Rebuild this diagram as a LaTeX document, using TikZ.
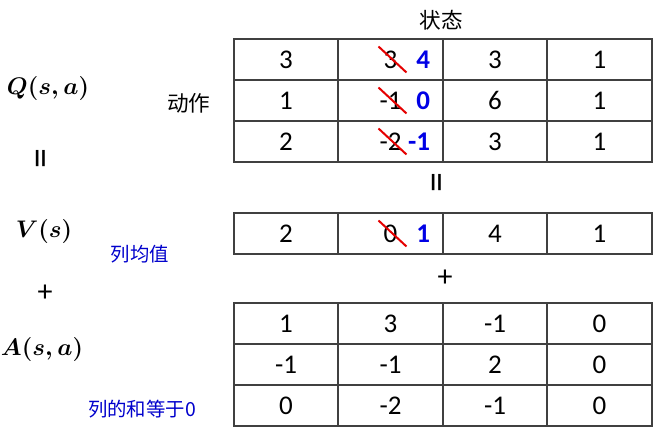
\documentclass[tikz,border=0pt]{standalone}
\usepackage{amsmath}
\usepackage{bm}
\usepackage{fontspec}
\setmainfont{Carlito}
\newfontfamily\cjk{Noto Sans CJK SC}
\usetikzlibrary{calc}

\begin{document}
\begin{tikzpicture}[x=.5pt, y=-.5pt, font=\fontsize{13.5}{15}\selectfont,
    grid/.style={draw=black!75, line width=.6pt},
    struck/.style={draw=red!90!black, line width=1pt},
    newval/.style={text=blue!90!black, font=\fontsize{13.5}{15}\selectfont\bfseries, anchor=east, inner sep=0pt},
    note/.style={text=blue!80!black, font=\cjk\fontsize{9.7}{11}\selectfont},
    head/.style={font=\cjk\fontsize{10.8}{12}\selectfont},
    sign/.style={font=\fontsize{15}{16}\selectfont},
    bigeq/.style={font=\fontsize{20}{22}\selectfont},
    formula/.style={font=\fontsize{11.5}{13}\selectfont\boldmath}]
            \useasboundingbox (0,0) rectangle (655,427);
            % tables
            \foreach \ytop/\nrows in {39/3, 213/1, 303/3} {
                \draw[grid] (234,\ytop) rectangle (652,{\ytop+41*\nrows});
                \foreach \xx in {338,443,547}
                    \draw[grid] (\xx,\ytop) -- (\xx,{\ytop+41*\nrows});
                \foreach \rr in {1,...,\nrows}
                    \draw[grid] (234,{\ytop+41*\rr}) -- (652,{\ytop+41*\rr});
            }
            % Q(s,a) values
            \foreach \row [count=\r] in {{3,3,3,1},{1,-1,6,1},{2,-2,3,1}}
                \foreach \v [count=\c] in \row
                    \node (q\r\c) at ({286+104.5*(\c-1)},{59.5+41*(\r-1)}) {\v};
            % V(s) values
            \foreach \v [count=\c] in {2,0,4,1}
                \node (v1\c) at ({286+104.5*(\c-1)},233.5) {\v};
            % A(s,a) values
            \foreach \row [count=\r] in {{1,3,-1,0},{-1,-1,2,0},{0,-2,-1,0}}
                \foreach \v [count=\c] in \row
                    \node (a\r\c) at ({286+104.5*(\c-1)},{323.5+41*(\r-1)}) {\v};
            % corrected second column
            \foreach \cell/\v in {q12/4, q22/0, q32/-1, v12/1} {
                \draw[struck] ($(\cell)+(-12,-13)$) -- ($(\cell)+(16,13)$);
                \node[newval] (n\cell) at ($(\cell)+(40,0)$) {\v};
            }
            % headings and signs
            \node[head] (state) at (441,20) {状态};
            \node[bigeq] (eqtop) at (441,183) {\rotatebox{90}{=}};
            \node[sign] (plustop) at (445,278) {+};
            \node[head] (action) at (189,103) {动作};
            \node[formula] (qlabel) at (48,89) {$\bm{Q(s,a)}$};
            \node[bigeq] (eqleft) at (45,159) {\rotatebox{90}{=}};
            \node[formula] (vlabel) at (44,232) {$\bm{V(s)}$};
            \node[note] (mean) at (140,254) {列均值};
            \node[sign] (plusleft) at (45,293) {+};
            \node[formula] (alabel) at (42,350) {$\bm{A(s,a)}$};
            \node[note] (sumzero) at (142,409) {列的和等于0};
        \end{tikzpicture}
\end{document}
